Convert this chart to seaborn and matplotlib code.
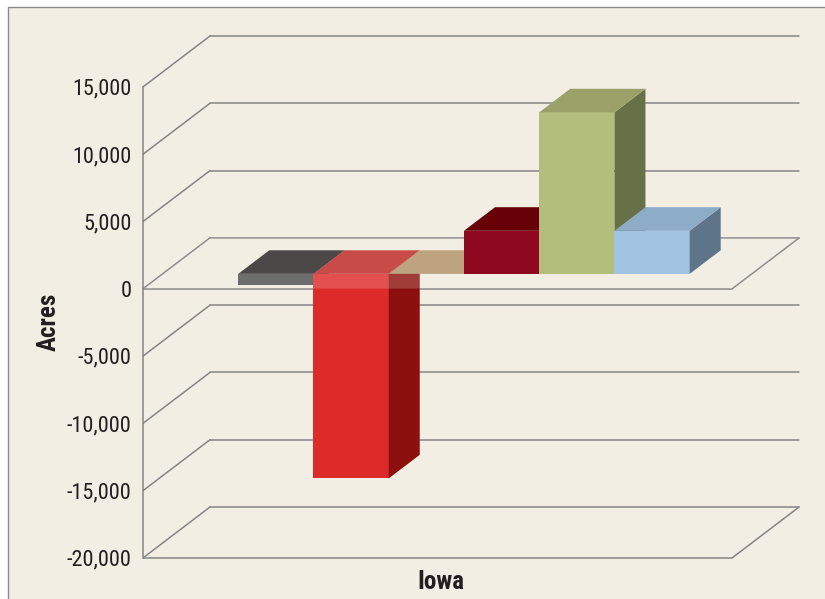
import numpy as np
import pandas as pd
import matplotlib
matplotlib.use("Agg")
import matplotlib.pyplot as plt
import seaborn as sns
from matplotlib import font_manager as fm
from matplotlib.patches import Polygon, Rectangle
from matplotlib.lines import Line2D
from matplotlib.transforms import ScaledTranslation, IdentityTransform
from matplotlib.ticker import FuncFormatter

# ---- data -------------------------------------------------------------
state = ["Iowa"]
series = ["Series 1", "Series 2", "Series 3", "Series 4", "Series 5", "Series 6"]
acres = [-850, -15200, 0, 3200, 12000, 3200]
y_ticks = [15000, 10000, 5000, 0, -5000, -10000, -15000, -20000]

# face colours of each box: front, top, right side
front_colors = ["#4d4e50", "#df2a2a", "#c8ab86", "#8e0820", "#b4be7c", "#a2c2e2"]
top_colors = ["#4b4847", "#c84b48", "#bea380", "#680008", "#9aa26a", "#8cacc8"]
side_colors = ["#3a3838", "#8b100e", "#9c8462", "#55000a", "#687046", "#5e7488"]

BG = "#f2eee4"
GRID = "#858585"
INK = "#231f20"

df = pd.DataFrame({"state": state * len(series), "series": series, "acres": acres})

sns.set_theme(style="white")


# a narrow sans face suits the labels; fall back to a regular one
def narrow_family():
    pref = ["liberation sans narrow", "roboto condensed", "dejavu sans",
            "noto sans", "open sans", "arial narrow"]
    found = []
    for f in fm.fontManager.ttflist:
        nm = f.name.lower()
        st = str(f.stretch).lower()
        if "narrow" in nm or "condensed" in nm or "condensed" in st:
            rank = pref.index(nm) if nm in pref else len(pref)
            found.append((rank, f.name, f.stretch))
    if found:
        found.sort()
        return found[0][1], found[0][2], True
    return "Liberation Sans", "normal", False


fam, stretch, is_narrow = narrow_family()
plt.rcParams["font.family"] = [fam, "DejaVu Sans"]
plt.rcParams["font.stretch"] = stretch
FS = 16 if is_narrow else 14
FS_LABEL = 18 if is_narrow else 15

DPI = 100
fig = plt.figure(figsize=(8.25, 5.99), dpi=DPI, facecolor="white")
W, H = 825, 599

# panel background with a thin grey frame
fig.add_artist(Rectangle((8 / W, -0.1), 1.2, (H - 7) / H + 0.1, transform=fig.transFigure,
                         facecolor=BG, edgecolor="#8a8a8a", linewidth=1.0, zorder=0))

# axes = front plane of the 3-D box
left, right, top, bottom = 143.3, 732.4, 86.7, 557.7
ax = fig.add_axes([left / W, (H - bottom) / H, (right - left) / W, (bottom - top) / H])
ax.patch.set_visible(False)

sns.barplot(data=df, x="state", y="acres", hue="series", palette=front_colors,
            saturation=1, width=0.8, gap=0, dodge=True, legend=False,
            linewidth=0, ax=ax)

xl, xr = -0.534, 0.510
ax.set_xlim(xl, xr)
ax.set_ylim(-20000, 15000)

# depth vector of the box (display pixels) and the depth slot of the bars
D = np.array([66.7, 50.7])
f0, f1 = 0.29, 0.755


def proj(x, y, depth):
    return ax.transData.transform((x, y)) + depth * D


ident = IdentityTransform()


def seg(p, q, z=1):
    ln = Line2D([p[0], q[0]], [p[1], q[1]], transform=ident, color=GRID,
                linewidth=1.1, zorder=z, clip_on=False)
    ax.add_artist(ln)


# back wall, left wall and floor outlines
for t in y_ticks:
    seg(proj(xl, t, 1), proj(xr, t, 1))
    seg(proj(xl, t, 0), proj(xl, t, 1))
for t in (0, -20000):
    seg(proj(xl, t, 0), proj(xr, t, 0))
    seg(proj(xr, t, 0), proj(xr, t, 1))

# translucent floor at zero
floor = Polygon([proj(xl, 0, 0), proj(xr, 0, 0), proj(xr, 0, 1), proj(xl, 0, 1)],
                closed=True, transform=ident, facecolor=BG, alpha=0.2,
                edgecolor="none", zorder=2.5, clip_on=False)
ax.add_artist(floor)

shift = ScaledTranslation(f0 * D[0] / DPI, f0 * D[1] / DPI, fig.dpi_scale_trans)
bars = [p for p in ax.patches if isinstance(p, Rectangle)]
for i, p in enumerate(bars):
    x0, w = p.get_x(), p.get_width()
    y0, h = p.get_y(), p.get_height()
    lo, hi = min(y0, y0 + h), max(y0, y0 + h)
    base = 2.0 if hi <= 0 else 4.0
    topz = 3.0 if hi <= 0 else 4.0
    p.set_transform(ax.transData + shift)
    p.set_clip_on(False)
    p.set_zorder(base + i * 0.1)
    x1 = x0 + w
    side = Polygon([proj(x1, lo, f0), proj(x1, hi, f0), proj(x1, hi, f1), proj(x1, lo, f1)],
                   closed=True, transform=ident, facecolor=side_colors[i],
                   edgecolor="none", zorder=base + i * 0.1 + 0.01, clip_on=False)
    topf = Polygon([proj(x0, hi, f0), proj(x1, hi, f0), proj(x1, hi, f1), proj(x0, hi, f1)],
                   closed=True, transform=ident, facecolor=top_colors[i],
                   edgecolor="none", zorder=topz + i * 0.1 + 0.02, clip_on=False)
    ax.add_artist(side)
    ax.add_artist(topf)

# axes styling
for s in ("top", "right", "bottom"):
    ax.spines[s].set_visible(False)
ax.spines["left"].set_color(GRID)
ax.spines["left"].set_linewidth(1.1)
ax.spines["left"].set_zorder(1)

ax.set_yticks(y_ticks)
ax.yaxis.set_major_formatter(FuncFormatter(lambda v, _: f"{int(v):,}"))
ax.tick_params(axis="y", length=0, pad=8.5, labelsize=FS, labelcolor=INK)
ax.tick_params(axis="x", length=0, pad=9, labelsize=FS_LABEL, labelcolor=INK)
for lab in ax.get_xticklabels():
    lab.set_fontweight("bold")
    lab.set_transform(lab.get_transform() + ScaledTranslation(-4 / DPI, 0, fig.dpi_scale_trans))
ax.set_xlabel("")
ax.set_ylabel("Acres", fontsize=FS_LABEL, fontweight="bold", color=INK, labelpad=4)
ax.grid(False)

fig.savefig("out.png", dpi=DPI, facecolor="white")
